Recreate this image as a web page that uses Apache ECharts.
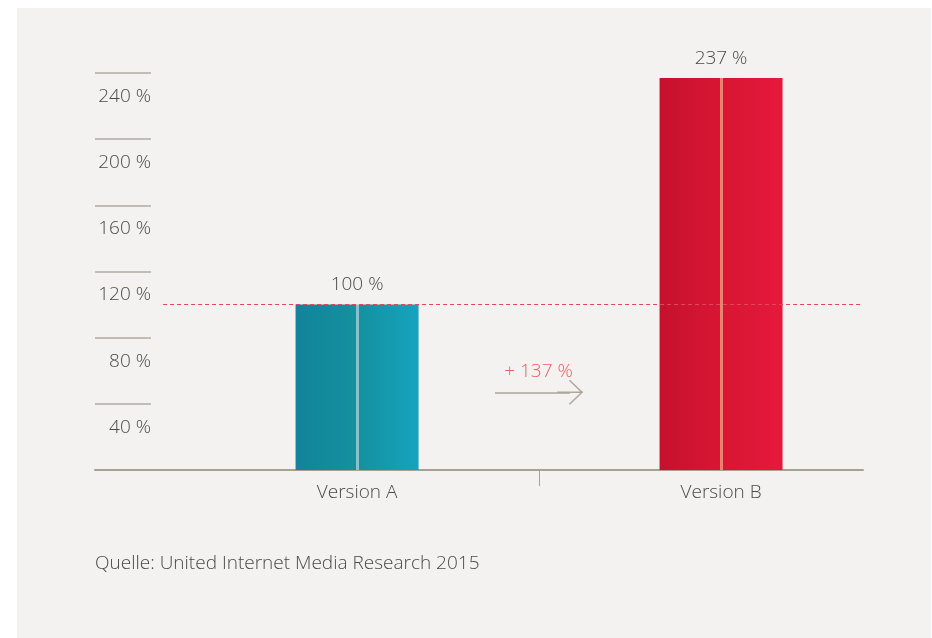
<!DOCTYPE html>
<html>
<head>
<meta charset="utf-8">
<script src="https://cdn.jsdelivr.net/npm/echarts@6/dist/echarts.min.js"></script>
<style>
  html, body { margin: 0; padding: 0; background: #ffffff; }
  #panel { position: absolute; left: 17px; top: 8px; right: 1px; bottom: 0; background: #f3f2f0; }
  #chart { position: absolute; left: 0; top: 0; width: 932px; height: 638px; }
</style>
</head>
<body>
<div id="panel"></div>
<div id="chart"></div>
<script>
const categories = ["Version A", "Version B"]
const values = [100, 237]
const yTicks = [0, 40, 80, 120, 160, 200, 240]
const source = "Quelle: United Internet Media Research 2015"

const font = "Open Sans"
const fontWeight = 300
const fontSize = 19
const textColor = "#4a4a4a"
const axisColor = "#a89f95"

// x positions of the categories (0, 1) on a value axis
const xMin = -0.72
const xMax = 1.39
const refLineStart = -0.533
const arrowY = 47

const chevron = "path://M0,13 L12.5,0 L13.5,1 L1,14 Z M12.5,0 L25,13 L24,14 L11.5,1 Z M11.8,0 L13.2,0 L13.2,26 L11.8,26 Z"

const barFills = [
  ["#12839a", "#14919f", "#8bbfcc", "#16a3be"],
  ["#c5112e", "#d81633", "#ea8270", "#e6193c"],
]

const makeFill = (c) => ({
  type: "linear", x: 0, y: 0, x2: 1, y2: 0,
  colorStops: [
    { offset: 0, color: c[0] },
    { offset: 0.488, color: c[1] },
    { offset: 0.488, color: c[2] },
    { offset: 0.512, color: c[2] },
    { offset: 0.512, color: c[1] },
    { offset: 1, color: c[3] },
  ],
})

const chart = echarts.init(document.getElementById("chart"))

const option = {
  backgroundColor: "transparent",
  animation: false,
  textStyle: { fontFamily: font, fontWeight: fontWeight },
  title: {
    text: source,
    left: 95,
    top: 554,
    padding: 0,
    textStyle: { color: textColor, fontSize: fontSize, fontWeight: fontWeight, fontFamily: font },
  },
  grid: { left: 95, right: 69, top: 73, bottom: 168 },
  xAxis: {
    type: "value",
    min: xMin,
    max: xMax,
    splitLine: { show: false },
    axisLine: { show: true, onZero: false, lineStyle: { color: axisColor, width: 2 } },
    axisTick: { show: true, customValues: [0.5], length: 16, lineStyle: { color: axisColor, width: 1 } },
    axisLabel: {
      customValues: [0, 1],
      formatter: (v) => categories[Math.round(v)],
      color: textColor,
      fontSize: fontSize,
      fontWeight: fontWeight,
      margin: 13,
    },
  },
  yAxis: {
    type: "value",
    min: yTicks[0],
    max: yTicks[yTicks.length - 1],
    interval: 40,
    splitLine: { show: false },
    axisLine: { show: false, onZero: false },
    axisTick: { show: true, inside: true, length: 56, lineStyle: { color: "#b3aaa0", width: 1.5 } },
    axisLabel: {
      inside: true,
      align: "right",
      margin: 56,
      verticalAlign: "top",
      lineHeight: 47,
      showMinLabel: false,
      formatter: (v) => v + " %",
      color: textColor,
      fontSize: fontSize,
      fontWeight: fontWeight,
    },
  },
  series: [
    {
      type: "bar",
      barWidth: 123,
      data: values.map((v, i) => ({
        value: [i, v],
        itemStyle: { color: makeFill(barFills[i]) },
      })),
      label: {
        show: true,
        position: "top",
        distance: 10,
        formatter: (p) => p.value[1] + " %",
        color: textColor,
        fontSize: fontSize,
        fontWeight: fontWeight,
      },
      markLine: {
        silent: true,
        symbol: "none",
        data: [
          [
            { coord: [refLineStart, values[0]] },
            {
              coord: [xMax, values[0]],
              lineStyle: { type: [4, 3], color: "#e0475c", width: 1 },
              label: { show: false },
            },
          ],
          [
            { coord: [0.5 - 0.121, arrowY], symbol: "none" },
            {
              coord: [0.5 + 0.085, arrowY],
              symbol: chevron,
              symbolSize: [25, 26],
              lineStyle: { type: "solid", color: "#aea59b", width: 1.5 },
              label: {
                show: true,
                position: "middle",
                distance: 11,
                padding: [0, 0, 0, 12],
                formatter: "+ " + (values[1] - values[0]) + " %",
                color: "#f05a5e",
                fontSize: fontSize,
                fontWeight: fontWeight,
                fontFamily: font,
              },
            },
          ],
        ],
      },
    },
  ],
}

chart.setOption(option)

window.addEventListener("resize", () => chart.resize())
</script>
</body>
</html>
